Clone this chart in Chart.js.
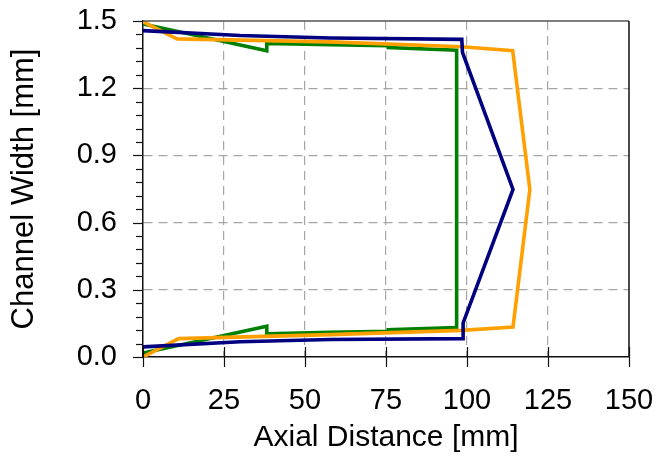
<!DOCTYPE html>
<html>
<head>
<meta charset="utf-8">
<script src="https://cdn.jsdelivr.net/npm/chart.js@4.4.1/dist/chart.umd.min.js"></script>
<style>
  html, body { margin: 0; padding: 0; background: #ffffff; }
  #wrap { width: 659px; height: 456px; position: relative; }
</style>
</head>
<body>
<div id="wrap"><canvas id="c" width="659" height="456"></canvas></div>
<script>
// ---- data ----
const xTickValues = [0, 25, 50, 75, 100, 125, 150];
const yTickLabels = ['0.0', '0.3', '0.6', '0.9', '1.2', '1.5'];

const greenX = [0, 38.2, 38.2, 57.8, 75.7, 75.7, 96.8, 96.8, 96.8, 75.7, 75.7, 57.8, 38.2, 38.2, 0];
const greenY = [1.487, 1.367, 1.400, 1.394, 1.390, 1.382, 1.370, 0.75, 0.131, 0.122, 0.115, 0.110, 0.104, 0.137, 0.018];

const orangeX = [0, 10.5, 57.8, 98.4, 114.1, 119.4, 114.2, 98.4, 57.8, 11, 0];
const orangeY = [1.497, 1.420, 1.407, 1.385, 1.367, 0.748, 0.134, 0.119, 0.100, 0.082, 0.0];

const navyX = [0, 30, 57.8, 98.4, 98.6, 114.2, 98.8, 98.8, 57.8, 30, 0];
const navyY = [1.457, 1.435, 1.424, 1.418, 1.360, 0.748, 0.152, 0.082, 0.078, 0.068, 0.045];

const toPts = (xs, ys) => xs.map((x, i) => ({ x: x, y: ys[i] }));

const FONT = "'Liberation Sans', Arial, sans-serif";

// frame + ticks drawn from the scales
const framePlugin = {
  id: 'frame',
  afterDraw(chart) {
    const { ctx, chartArea: a, scales } = chart;
    const xs = scales.x, ys = scales.y;
    ctx.save();
    ctx.setLineDash([]);
    ctx.strokeStyle = '#555555';
    ctx.lineWidth = 1.5;
    ctx.beginPath();
    ctx.moveTo(a.left, a.top);
    ctx.lineTo(a.right, a.top);
    ctx.stroke();
    ctx.strokeStyle = '#111111';
    ctx.beginPath();
    ctx.moveTo(a.right, a.top);
    ctx.lineTo(a.right, a.bottom);
    ctx.stroke();
    ctx.strokeStyle = '#111111';
    ctx.lineWidth = 1.2;
    xTickValues.forEach(v => {
      const px = Math.round(xs.getPixelForValue(v)) + 0.5;
      ctx.beginPath();
      ctx.moveTo(px, a.bottom - 10);
      ctx.lineTo(px, a.bottom + 10);
      ctx.stroke();
    });
    for (let i = 0; i <= 25; i++) {
      const v = i * 0.06;
      const py = Math.round(ys.getPixelForValue(v)) + 0.5;
      const len = (i % 5 === 0) ? 10 : 7;
      ctx.beginPath();
      ctx.moveTo(a.left - len, py);
      ctx.lineTo(a.left, py);
      ctx.stroke();
    }
    ctx.restore();
  }
};

const ds = (label, xs, ys, color) => ({
  label: label,
  data: toPts(xs, ys),
  borderColor: color,
  backgroundColor: color,
  borderWidth: 3.6,
  pointRadius: 0,
  showLine: true,
  fill: false,
  tension: 0,
  borderJoinStyle: 'miter'
});

new Chart(document.getElementById('c'), {
  type: 'scatter',
  data: {
    datasets: [
      ds('Navy', navyX, navyY, '#000080'),
      ds('Orange', orangeX, orangeY, '#FFA000'),
      ds('Green', greenX, greenY, '#008000')
    ]
  },
  options: {
    responsive: false,
    animation: false,
    devicePixelRatio: 1,
    layout: { padding: { top: 21, right: 30, left: 0, bottom: 0 } },
    plugins: {
      legend: { display: false },
      tooltip: { enabled: false }
    },
    scales: {
      x: {
        type: 'linear',
        min: 0, max: 150,
        afterFit(scale) {
          scale.height = 99;
          scale.paddingLeft = 0; scale.paddingRight = 0;
          scale.paddingTop = 0; scale.paddingBottom = 0;
        },
        afterBuildTicks(scale) { scale.ticks = xTickValues.map(v => ({ value: v })); },
        ticks: {
          font: { family: FONT, size: 29 },
          color: '#000000',
          padding: 27,
          maxRotation: 0,
          callback: v => String(v)
        },
        grid: {
          drawTicks: false,
          color: ctx => (ctx.tick && (ctx.tick.value === 0 || ctx.tick.value === 150)) ? 'rgba(0,0,0,0)' : '#a6a6a6',
          lineWidth: 1.2
        },
        border: { display: true, color: '#111111', width: 1.5, dash: [9, 6] },
        title: {
          display: true,
          text: 'Axial Distance [mm]',
          font: { family: FONT, size: 30 },
          color: '#000000',
          padding: { top: 0, bottom: 0 }
        }
      },
      y: {
        type: 'linear',
        min: 0, max: 1.5,
        afterFit(scale) {
          scale.width = 143;
          scale.paddingLeft = 0; scale.paddingRight = 0;
          scale.paddingTop = 0; scale.paddingBottom = 0;
        },
        afterBuildTicks(scale) { scale.ticks = yTickLabels.map(t => ({ value: parseFloat(t) })); },
        ticks: {
          font: { family: FONT, size: 29 },
          color: '#000000',
          padding: 26,
          callback: (v, i) => yTickLabels[i]
        },
        grid: {
          drawTicks: false,
          color: ctx => (ctx.tick && (ctx.tick.value === 0 || ctx.tick.value === 1.5)) ? 'rgba(0,0,0,0)' : '#a6a6a6',
          lineWidth: 1.2
        },
        border: { display: true, color: '#111111', width: 1.5, dash: [9, 6] },
        title: {
          display: true,
          text: 'Channel Width [mm]',
          font: { family: FONT, size: 31 },
          color: '#000000',
          padding: { top: 6, bottom: 0 }
        }
      }
    }
  },
  plugins: [framePlugin]
});
</script>
</body>
</html>
